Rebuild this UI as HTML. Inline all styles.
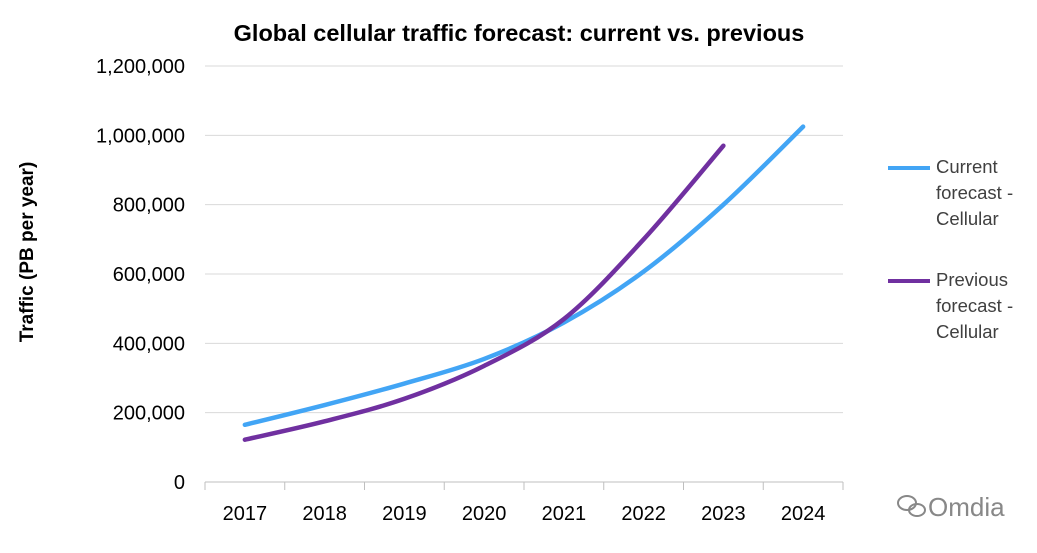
<!DOCTYPE html>
<html><head><meta charset="utf-8"><style>
body{margin:0;background:#fff;width:1037px;height:548px;overflow:hidden;font-family:"Liberation Sans",sans-serif}
</style></head><body>
<svg id="chart" width="1037" height="548" xmlns="http://www.w3.org/2000/svg" font-family="Liberation Sans, sans-serif">
<text x="519" y="41" text-anchor="middle" font-size="23.5" font-weight="bold" fill="#000">Global cellular traffic forecast: current vs. previous</text>
<text transform="translate(33,252) rotate(-90)" text-anchor="middle" font-size="19" font-weight="bold" fill="#000">Traffic (PB per year)</text>
<g id="grid"></g><g id="axes"></g><g id="series"></g>
<g font-size="18.5" fill="#404040">
<line x1="888" y1="168" x2="930" y2="168" stroke="#42a5f5" stroke-width="4"/>
<text x="936" y="173">Current</text>
<text x="936" y="199">forecast -</text>
<text x="936" y="225">Cellular</text>
<line x1="888" y1="281" x2="930" y2="281" stroke="#7030a0" stroke-width="4"/>
<text x="936" y="286">Previous</text>
<text x="936" y="312">forecast -</text>
<text x="936" y="338">Cellular</text>
</g>
<g fill="#888">
<ellipse cx="907" cy="503" rx="9" ry="7" fill="none" stroke="#888" stroke-width="2"/>
<ellipse cx="917" cy="510" rx="8" ry="6" fill="none" stroke="#888" stroke-width="2"/>
<text x="928" y="516" font-size="26">Omdia</text>
</g>
</svg>
<script>
const categories=["2017","2018","2019","2020","2021","2022","2023","2024"];
const currentValues=[165000,222000,284000,355000,460000,607000,800000,1025000];
const previousValues=[122000,175000,240000,335000,470000,700000,970000];
const yTicks=[0,200000,400000,600000,800000,1000000,1200000];
const NS="http://www.w3.org/2000/svg";
const L=205,R=843,T=66,B=482,yMax=1200000;
const bw=(R-L)/categories.length;
const xS=i=>L+bw*(i+0.5);
const yS=v=>B-(v/yMax)*(B-T);
function mk(t,a,p){const e=document.createElementNS(NS,t);for(const k in a)e.setAttribute(k,a[k]);p.appendChild(e);return e;}
const grid=document.getElementById('grid'),axes=document.getElementById('axes'),ser=document.getElementById('series');
yTicks.forEach(v=>{
 const y=yS(v);
 if(v>0){const g=mk('line',{x1:L,x2:R,y1:y,y2:y,stroke:'#d9d9d9','stroke-width':1},grid);
 
 }
 const t=mk('text',{x:L-20,y:y+7,'text-anchor':'end','font-size':20,fill:'#000'},axes);
 t.textContent=v.toLocaleString('en-US');
 
 
});
const ax=mk('line',{x1:L,x2:R,y1:B,y2:B,stroke:'#bfbfbf','stroke-width':1},axes);


for(let i=0;i<=categories.length;i++){const x=L+bw*i;const tk=mk('line',{x1:x,x2:x,y1:B,y2:B+8,stroke:'#bfbfbf'},axes);
 
 }
categories.forEach((c,i)=>{const t=mk('text',{x:xS(i),y:B+38,'text-anchor':'middle','font-size':20,fill:'#000'},axes);t.textContent=c;
 
 });
function path(vals){const p=vals.map((v,i)=>[xS(i),yS(v)]);let d=`M${p[0][0]},${p[0][1]}`;
 for(let i=0;i<p.length-1;i++){const p0=p[i-1]||p[i],p1=p[i],p2=p[i+1],p3=p[i+2]||p2;
 const c1=[p1[0]+(p2[0]-p0[0])/6,p1[1]+(p2[1]-p0[1])/6],c2=[p2[0]-(p3[0]-p1[0])/6,p2[1]-(p3[1]-p1[1])/6];
 d+=` C${c1[0]},${c1[1]} ${c2[0]},${c2[1]} ${p2[0]},${p2[1]}`;}return d;}
const pc=mk('path',{d:path(currentValues),fill:'none',stroke:'#42a5f5','stroke-width':4.5,'stroke-linecap':'round'},ser);


const pp=mk('path',{d:path(previousValues),fill:'none',stroke:'#7030a0','stroke-width':4.5,'stroke-linecap':'round'},ser);


</script>
</body></html>
